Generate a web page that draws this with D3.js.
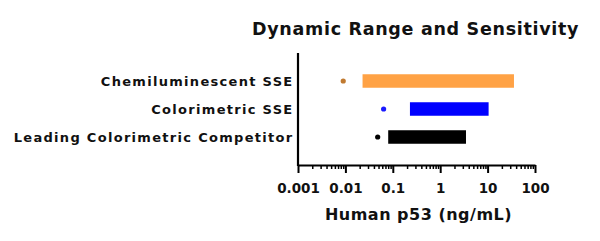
<!DOCTYPE html>
<html>
<head>
<meta charset="utf-8">
<script src="https://cdn.jsdelivr.net/npm/d3@7"></script>
<style>
  body { margin: 0; background: #fff; }
  svg text { font-family: "DejaVu Sans", sans-serif; font-weight: bold; fill: #111; }
</style>
</head>
<body>
<svg width="600" height="241"></svg>
<script>
// chart values
const categories = ["Chemiluminescent SSE", "Colorimetric SSE", "Leading Colorimetric Competitor"];
const sensitivity = [0.009, 0.064, 0.048];   // dot = lowest detectable
const rangeLow = [0.023, 0.23, 0.08];        // bar start
const rangeHigh = [36, 10.5, 3.5];           // bar end
const barColors = ["#ffa245", "#0000ff", "#000000"];
const dotColors = ["#c07a30", "#1a1aff", "#000000"];
const tickValues = [0.001, 0.01, 0.1, 1, 10, 100];
const tickLabels = ["0.001", "0.01", "0.1", "1", "10", "100"];

const svg = d3.select('svg');
const plotLeft = 298, plotRight = 535, plotTop = 53, plotBottom = 165;

const x = d3.scaleLog().domain([0.001, 100]).range([plotLeft, plotRight]);
const y = d3.scalePoint().domain(categories).range([plotTop, plotBottom]).padding(1);

// title
svg.append('text')
  .attr('x', 252).attr('y', 35)
  .style('font-size', '17.5px')
  .style('letter-spacing', '0.7px')
  .text('Dynamic Range and Sensitivity');

// bars
const rows = categories.map((c, i) => ({ c, s: sensitivity[i], lo: rangeLow[i], hi: rangeHigh[i], i }));
const barH = 13.5;
svg.selectAll('rect.bar')
  .data(rows)
  .join('rect')
  .attr('class', 'bar')
  .attr('x', d => x(d.lo))
  .attr('y', d => y(d.c) - barH / 2)
  .attr('width', d => x(d.hi) - x(d.lo))
  .attr('height', barH)
  .attr('fill', d => barColors[d.i]);

svg.selectAll('circle.dot')
  .data(rows)
  .join('circle')
  .attr('class', 'dot')
  .attr('cx', d => x(d.s))
  .attr('cy', d => y(d.c))
  .attr('r', 2.6)
  .attr('fill', d => dotColors[d.i]);

// category labels
svg.selectAll('text.cat')
  .data(categories)
  .join('text')
  .attr('class', 'cat')
  .attr('x', 293.5)
  .attr('y', d => y(d))
  .attr('dy', '0.36em')
  .attr('text-anchor', 'end')
  .style('font-size', '13px')
  .style('letter-spacing', '1.3px')
  .text(d => d);

// minor ticks
const minor = [];
for (let e = -3; e < 2; e++) for (let k = 2; k < 10; k++) minor.push(k * Math.pow(10, e));
svg.append('g')
  .attr('transform', `translate(0,${plotBottom})`)
  .call(d3.axisBottom(x).tickValues(minor).tickSize(4).tickFormat(''))
  .call(g => g.select('.domain').remove())
  .selectAll('line').attr('stroke', '#000').attr('stroke-width', 1.5);

// major ticks + labels
const xAxis = svg.append('g')
  .attr('transform', `translate(0,${plotBottom})`)
  .call(d3.axisBottom(x).tickValues(tickValues).tickSize(8).tickSizeOuter(0).tickPadding(10)
    .tickFormat((d, i) => tickLabels[i]));
xAxis.select('.domain').attr('stroke', '#000').attr('stroke-width', 2.2);
xAxis.selectAll('line').attr('stroke', '#000').attr('stroke-width', 2);
xAxis.selectAll('text')
  .style('font-size', '13.5px')
  .attr('font-family', null).attr('fill', '#111');

// y axis line
svg.append('g')
  .attr('transform', `translate(${plotLeft},0)`)
  .call(d3.axisLeft(y).tickValues([]).tickSizeOuter(0))
  .call(g => g.select('.domain').attr('d', `M0,${plotTop}V${plotBottom + 1}`).attr('stroke', '#000').attr('stroke-width', 2.2));

// axis title
svg.append('text')
  .attr('x', (plotLeft + plotRight) / 2 + 2)
  .attr('y', 219.5)
  .attr('text-anchor', 'middle')
  .style('font-size', '16px')
  .style('letter-spacing', '0.5px')
  .text('Human p53 (ng/mL)');
</script>
</body>
</html>
